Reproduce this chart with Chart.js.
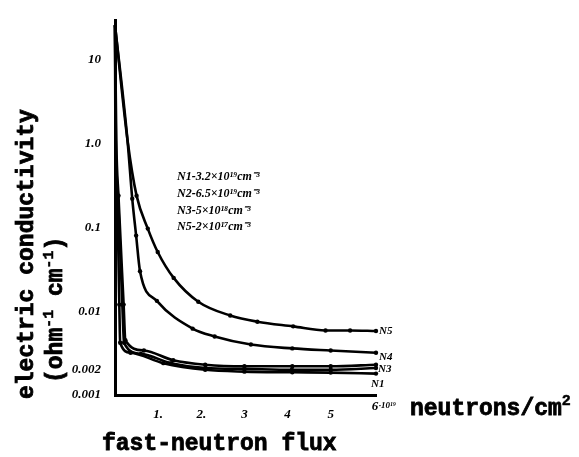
<!DOCTYPE html>
<html>
<head>
<meta charset="utf-8">
<script src="https://cdn.jsdelivr.net/npm/chart.js@4.4.1/dist/chart.umd.min.js"></script>
<style>
  html, body { margin: 0; padding: 0; background: #fff; }
</style>
</head>
<body>
<canvas id="myChart" width="579" height="457"></canvas>
<script>
// flux in 10^19 neutrons/cm2, conductivity in ohm^-1 cm^-1
const fluxN5 = [0, 0.29, 0.5, 0.76, 0.99, 1.36, 1.93, 2.67, 3.3, 4.13, 4.88, 5.45, 6.05];
const condN5 = [26, 1.1, 0.24, 0.097, 0.051, 0.025, 0.013, 0.0089, 0.0075, 0.0066, 0.0059, 0.0059, 0.0058];

const fluxN4 = [0, 0.29, 0.4, 0.49, 0.58, 0.97, 1.8, 2.31, 3.15, 4.11, 5.0, 6.05];
const condN4 = [26, 1.1, 0.22, 0.08, 0.030, 0.0133, 0.0062, 0.0050, 0.0040, 0.0036, 0.0034, 0.0032];

const fluxN3 = [0, 0.03, 0.08, 0.2, 0.24, 0.67, 1.35, 2.09, 3.0, 4.11, 5.0, 6.05];
const condN3 = [26, 1.1, 0.24, 0.012, 0.0045, 0.0034, 0.0026, 0.0023, 0.0022, 0.0022, 0.0022, 0.0023];

const fluxN2 = [0, 0.02, 0.07, 0.17, 0.21, 0.6, 1.3, 2.1, 3.0, 4.1, 5.0, 6.05];
const condN2 = [26, 1.1, 0.24, 0.012, 0.0042, 0.0031, 0.0024, 0.0021, 0.00205, 0.002, 0.002, 0.0021];

const fluxN1 = [0, 0.01, 0.05, 0.1, 0.12, 0.36, 1.12, 2.09, 3.0, 4.11, 5.0, 6.05];
const condN1 = [26, 1.1, 0.24, 0.012, 0.0042, 0.0032, 0.0024, 0.0020, 0.0019, 0.00187, 0.00185, 0.0018];

const xTicks = [1, 2, 3, 4, 5];
const xTickLabels = ['1.', '2.', '3', '4', '5'];
const yTicks = [10, 1, 0.1, 0.01, 0.002, 0.001];
const yTickLabels = ['10', '1.0', '0.1', '0.01', '0.002', '0.001'];

const legendLines = [
  'N1-3.2×10¹⁹cm⁻³',
  'N2-6.5×10¹⁹cm⁻³',
  'N3-5×10¹⁸cm⁻³',
  'N5-2×10¹⁷cm⁻³'
];

function pts(xs, ys) {
  return xs.map((x, i) => ({ x: x, y: ys[i] }));
}

function line(label, xs, ys) {
  return {
    label: label,
    data: pts(xs, ys),
    borderColor: '#000',
    backgroundColor: '#000',
    borderWidth: 2.6,
    pointRadius: (c) => (c.dataIndex < 2 ? 0 : 2.2),
    pointBorderWidth: 0,
    cubicInterpolationMode: 'monotone',
    clip: false
  };
}

// draws a row of text pieces, some raised as superscripts
function runs(ctx, parts, x, y) {
  let cx = x;
  parts.forEach(p => {
    ctx.font = p.font;
    ctx.fillText(p.t, cx, y - (p.rise || 0));
    ctx.lineWidth = p.stroke || 0;
    if (p.stroke) ctx.strokeText(p.t, cx, y - (p.rise || 0));
    cx += ctx.measureText(p.t).width;
  });
}

const big = 'bold 23px "Liberation Mono", monospace';
const sup = 'bold 15px "Liberation Mono", monospace';
const hand = 'italic bold 13px "Liberation Serif", serif';

const textPlugin = {
  id: 'texts',
  afterDraw(chart) {
    const ctx = chart.ctx;
    const xs = chart.scales.x, ys = chart.scales.y;
    ctx.save();
    ctx.fillStyle = '#000';
    ctx.strokeStyle = '#000';
    ctx.textBaseline = 'middle';

    // y tick labels
    ctx.font = hand;
    ctx.textAlign = 'right';
    yTicks.forEach((v, i) => ctx.fillText(yTickLabels[i], 101, ys.getPixelForValue(v)));

    // x tick labels
    ctx.textAlign = 'center';
    xTicks.forEach((v, i) => ctx.fillText(xTickLabels[i], xs.getPixelForValue(v), 415));
    ctx.textAlign = 'left';
    ctx.fillText('6', xs.getPixelForValue(6) - 2, 407);
    ctx.font = 'italic bold 9px "Liberation Serif", serif';
    ctx.fillText('·10¹⁹', xs.getPixelForValue(6) + 5, 406);

    // notes inside the plot
    ctx.font = 'italic bold 12px "Liberation Serif", serif';
    const ly = [177, 194, 211, 227];
    legendLines.forEach((t, i) => ctx.fillText(t, 177, ly[i]));

    // curve end labels
    ctx.font = 'italic bold 11px "Liberation Serif", serif';
    const ex = xs.getPixelForValue(6.05);
    ctx.fillText('N5', ex + 3, 331);
    ctx.fillText('N4', ex + 3, 357);
    ctx.fillText('N3', ex + 2, 369);
    ctx.fillText('N1', ex - 5, 384);

    // axis titles
    ctx.textBaseline = 'alphabetic';
    runs(ctx, [{ t: 'fast-neutron flux', font: big, stroke: 0.8 }], 102, 450);
    runs(ctx, [
      { t: 'neutrons/cm', font: big, stroke: 0.8 },
      { t: '2', font: sup, rise: 10, stroke: 0.5 }
    ], 410, 415);

    ctx.save();
    ctx.translate(33, 399);
    ctx.rotate(-Math.PI / 2);
    runs(ctx, [{ t: 'electric conductivity', font: big, stroke: 0.8 }], 0, 0);
    ctx.restore();

    ctx.save();
    ctx.translate(62, 383);
    ctx.rotate(-Math.PI / 2);
    runs(ctx, [
      { t: '(ohm', font: big, stroke: 0.8 },
      { t: '-1', font: sup, rise: 9, stroke: 0.5 },
      { t: ' cm', font: big, stroke: 0.8 },
      { t: '-1', font: sup, rise: 9, stroke: 0.5 },
      { t: ')', font: big, stroke: 0.8 }
    ], 0, 0);
    ctx.restore();

    ctx.restore();
  }
};

const config = {
  type: 'line',
  data: {
    datasets: [
      line('N5', fluxN5, condN5),
      line('N4', fluxN4, condN4),
      line('N3', fluxN3, condN3),
      line('N2', fluxN2, condN2),
      line('N1', fluxN1, condN1)
    ]
  },
  options: {
    responsive: false,
    animation: false,
    devicePixelRatio: 1,
    layout: { padding: { left: 107, right: 203, top: 20, bottom: 54 } },
    scales: {
      x: {
        type: 'linear',
        min: 0,
        max: 6.05,
        grid: { display: false },
        border: { display: true, color: '#000', width: 3 },
        ticks: { display: false }
      },
      y: {
        type: 'logarithmic',
        min: 0.001,
        max: 30,
        grid: { display: false },
        border: { display: true, color: '#000', width: 3 },
        ticks: { display: false }
      }
    },
    plugins: {
      legend: { display: false },
      tooltip: { enabled: false }
    }
  },
  plugins: [textPlugin]
};

const myChart = new Chart(document.getElementById('myChart'), config);
</script>
</body>
</html>
